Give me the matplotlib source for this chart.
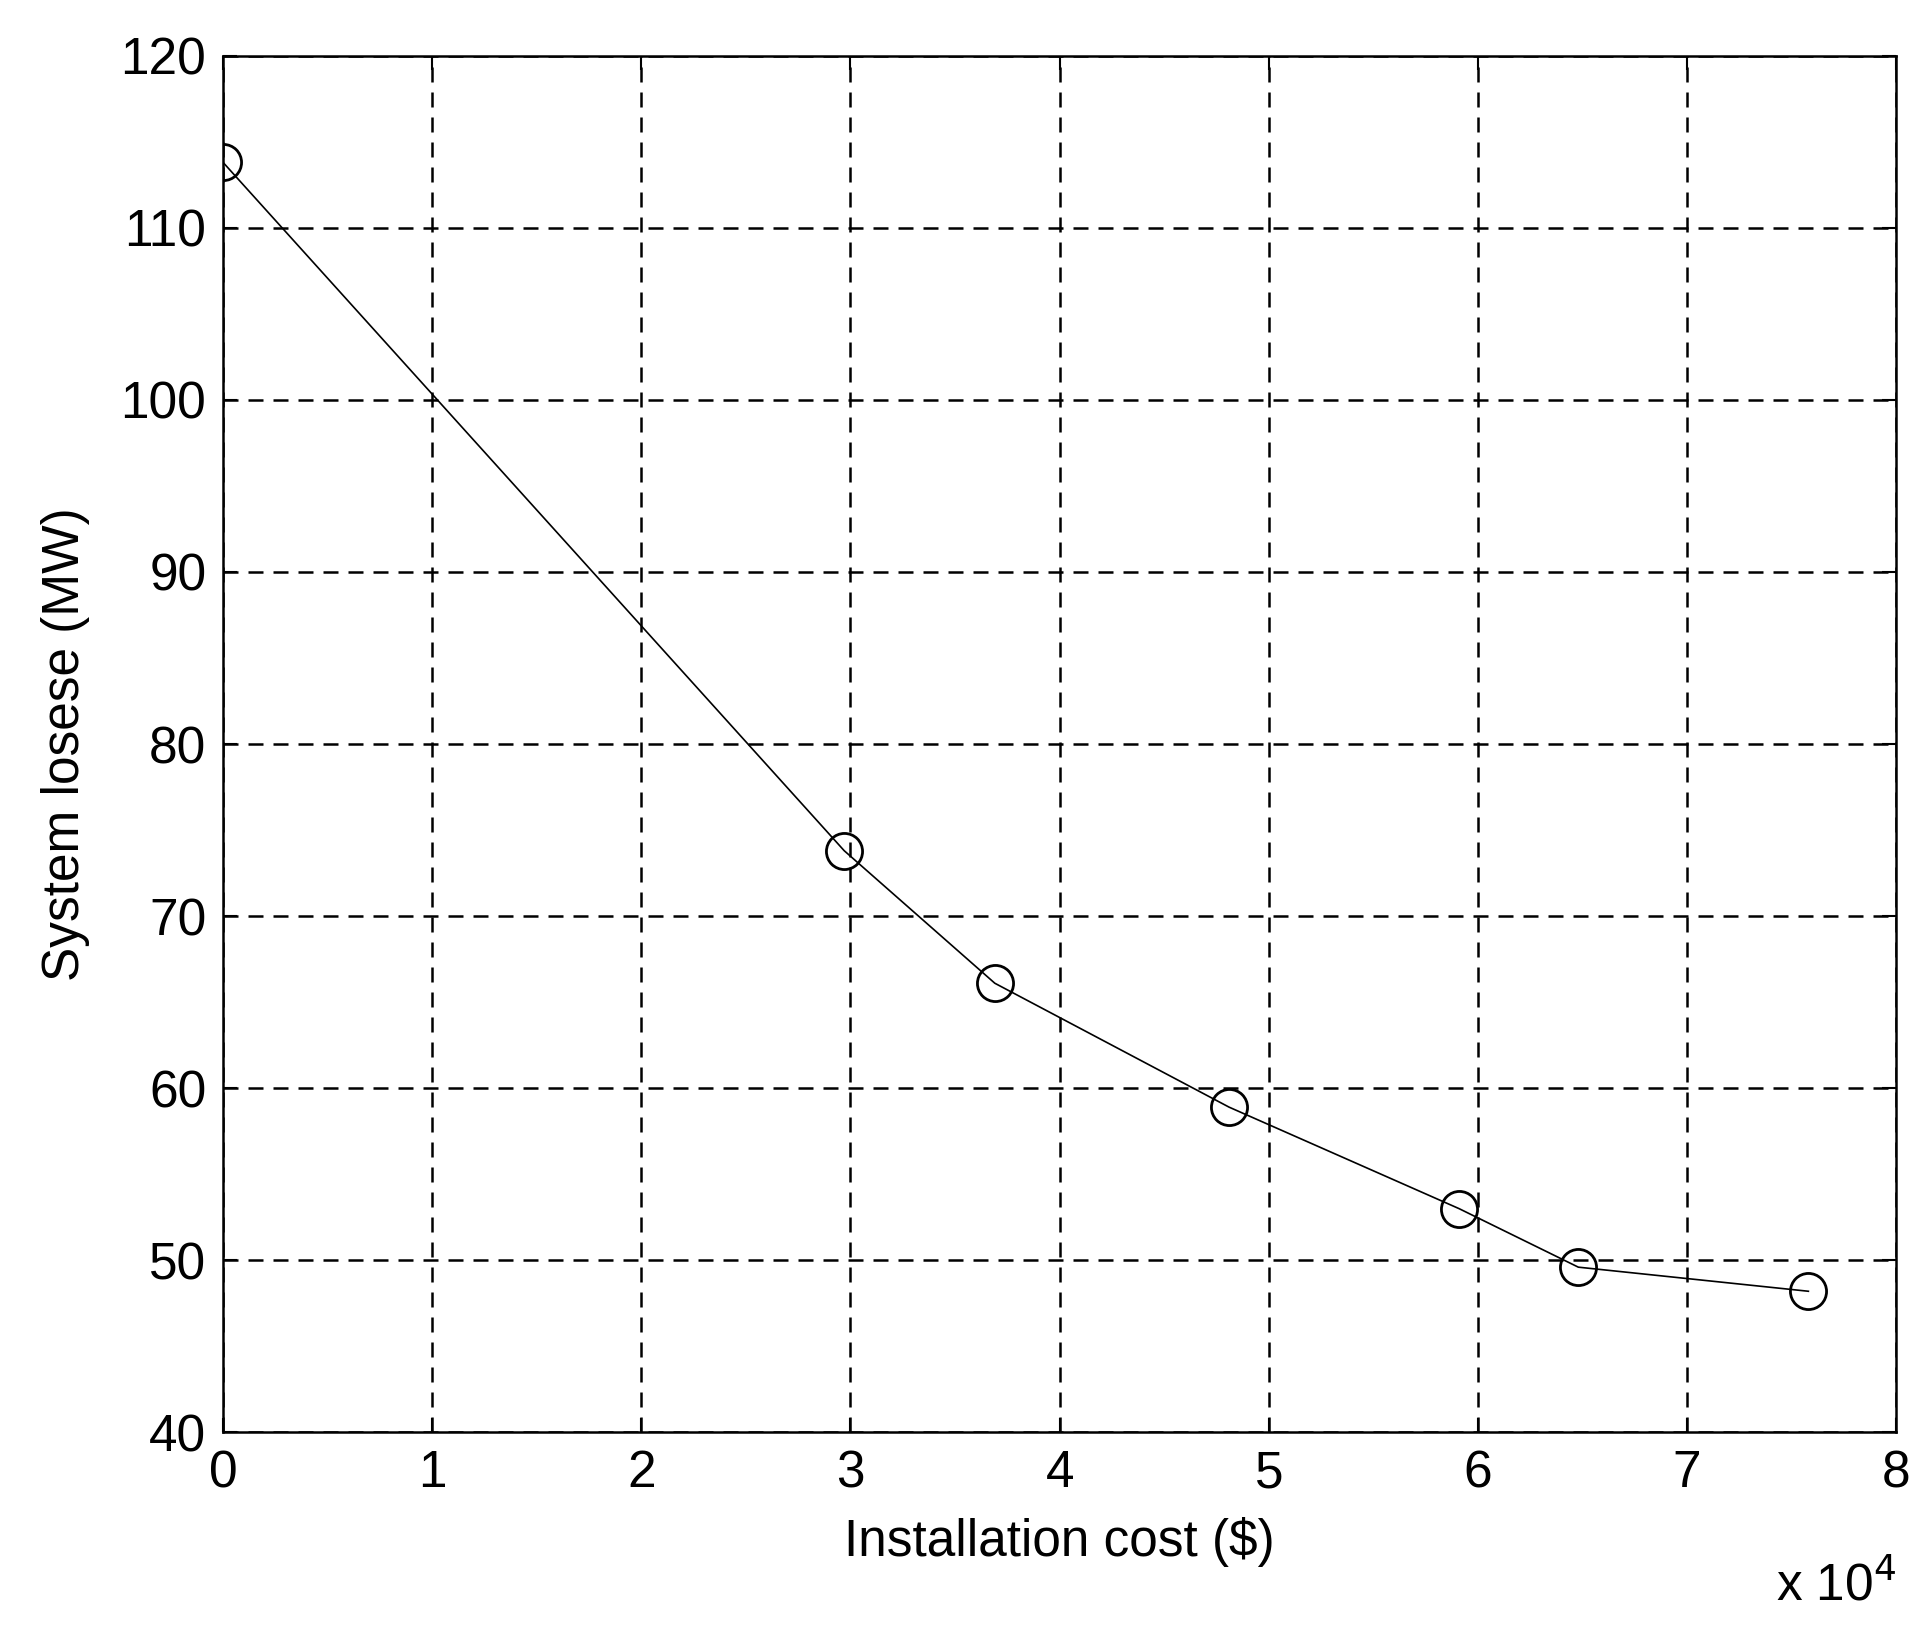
import matplotlib
matplotlib.use('Agg')
import matplotlib.pyplot as plt

plt.rcParams['font.family'] = ['Liberation Sans', 'DejaVu Sans']

cost = [0.0, 2.97, 3.69, 4.81, 5.91, 6.48, 7.58]  # x 10^4 $
losses = [113.8, 73.8, 66.1, 58.9, 53.0, 49.6, 48.2]

fig = plt.figure(figsize=(19.31, 16.37), dpi=100)
ax = fig.add_axes([0.1155, 0.125, 0.8665, 0.841])
ax.plot(cost, losses, color='black', lw=1.2, marker='o', ms=26, mfc='none', mec='black', mew=2)
ax.set_xlim(0, 8)
ax.set_ylim(40, 120)
ax.set_xticks(range(0, 9))
ax.set_yticks(range(40, 121, 10))
ax.grid(True, color='black', ls=(0, (6, 4)), lw=1.8)
for s in ax.spines.values():
    s.set_linewidth(1.8)
ax.tick_params(direction='in', length=10, width=1.5, labelsize=37, pad=12, top=True, right=True)
ax.set_xlabel('Installation cost ($)', fontsize=37, labelpad=14)
ax.set_ylabel('System losese (MW)', fontsize=37, labelpad=22)
fig.text(0.982, 0.022, r'x 10$^{4}$', fontsize=37, ha='right')

fig.savefig('out.png', dpi=100)
